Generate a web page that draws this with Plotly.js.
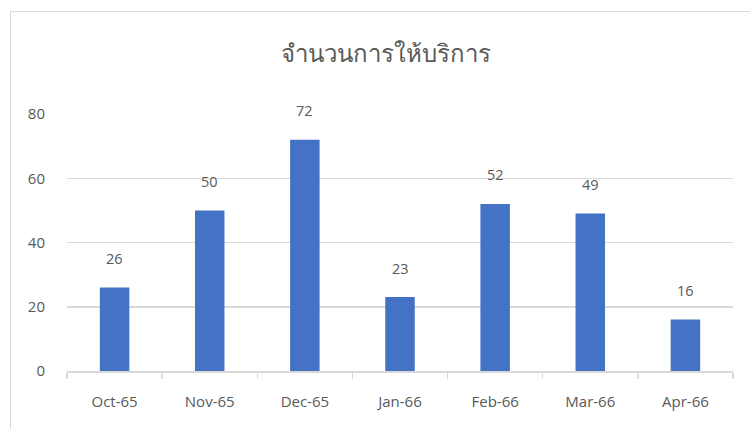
<!DOCTYPE html>
<html>
<head>
<meta charset="utf-8">
<script src="https://cdn.plot.ly/plotly-3.0.1.min.js"></script>
<style>
html,body{margin:0;padding:0;background:#fff;}
#wrap{position:relative;width:750px;height:429px;overflow:hidden;}
#chart{position:absolute;left:0;top:0;width:750px;height:429px;}
#frame{position:absolute;left:10px;top:11px;width:800px;height:500px;border:1.5px solid #d9d9d9;pointer-events:none;}
</style>
</head>
<body>
<div id="wrap"><div id="chart"></div><div id="frame"></div></div>
<script>
const categories = ["Oct-65","Nov-65","Dec-65","Jan-66","Feb-66","Mar-66","Apr-66"];
const values = [26,50,72,23,52,49,16];
const yTicks = [0,20,40,60,80];
const chartTitle = "จำนวนการให้บริการ";

const textColor = "#595959";
const fontFam = "'Open Sans','Noto Sans',sans-serif";

const annotations = categories.map((c,i)=>({
  x: c, y: values[i], xref:'x', yref:'y',
  text: String(values[i]), showarrow:false,
  yanchor:'middle', yshift:29,
  font:{family:fontFam, size:14.5, color:textColor}
}));

Plotly.newPlot('chart', [{
  type:'bar', x:categories, y:values,
  marker:{color:'#4472C4'},
  hoverinfo:'none'
}], {
  width:750, height:429,
  margin:{l:67, r:17, t:114, b:58},
  paper_bgcolor:'#fff', plot_bgcolor:'#fff',
  bargap:0.69,
  title:{text:chartTitle, x:0.515, xanchor:'center', y:0.876, yanchor:'middle',
    font:{family:"'Noto Sans','DejaVu Sans',sans-serif", size:24, color:textColor}},
  xaxis:{type:'category', showgrid:false, zeroline:false,
    showline:true, linecolor:'#d9d9d9', linewidth:1.5,
    ticks:'outside', tickson:'boundaries', ticklen:6, tickcolor:'#d9d9d9', tickwidth:1.5,
    ticklabelstandoff:16,
    tickfont:{family:fontFam, size:15, color:textColor}},
  yaxis:{range:[0,80], tickvals:yTicks, showgrid:true, gridcolor:'#d9d9d9', gridwidth:1.5,
    zeroline:false, showline:false, ticks:'', ticklabelstandoff:21,
    tickfont:{family:fontFam, size:15, color:textColor}},
  annotations: annotations,
  showlegend:false
}, {staticPlot:true});
</script>
</body>
</html>
